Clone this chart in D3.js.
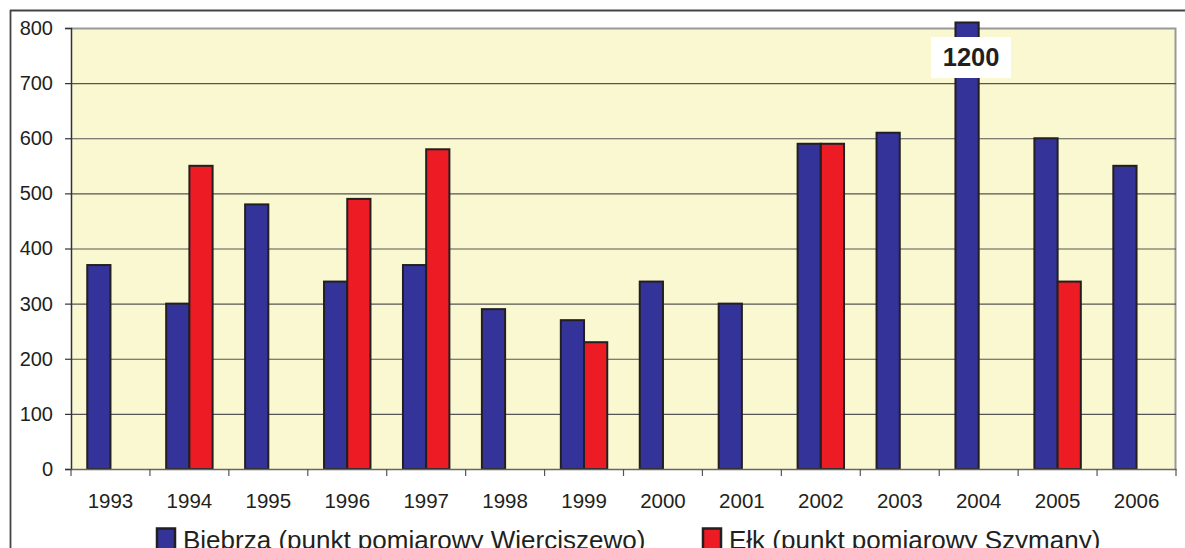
<!DOCTYPE html>
<html><head><meta charset="utf-8">
<script src="https://cdn.jsdelivr.net/npm/d3@7"></script>
<style>html,body{margin:0;padding:0;background:#fff;overflow:hidden}</style>
</head><body>
<svg id="c" width="1185" height="548"></svg>
<script>
const years = ["1993","1994","1995","1996","1997","1998","1999","2000","2001","2002","2003","2004","2005","2006"];
const biebrza = [370,300,480,340,370,290,270,340,300,590,610,1200,600,550];
const elk = [null,550,null,490,580,null,230,null,null,590,null,null,340,null];
const seriesNames = ["Biebrza (punkt pomiarowy Wierciszewo)","Ełk (punkt pomiarowy Szymany)"];
const seriesColors = ["#333399","#ED1C24"];
const yTicks = [0,100,200,300,400,500,600,700,800];
const overflowLabel = "1200";

const svg = d3.select("#c");
const L = 71, R = 1176, T = 28, B = 469;
const font = "Liberation Sans, Arial, sans-serif";

// outer frame
svg.append("line").attr("x1",10).attr("x2",1185).attr("y1",10.5).attr("y2",10.5).attr("stroke","#444").attr("stroke-width",1.8);
svg.append("line").attr("x1",10.5).attr("x2",10.5).attr("y1",10).attr("y2",548).attr("stroke","#444").attr("stroke-width",1.8);

const x = d3.scaleBand().domain(years).range([L,R]).paddingInner(0).paddingOuter(0);
const x1 = d3.scaleBand().domain([0,1]).range([0,x.bandwidth()]).paddingOuter(0.7).paddingInner(0);
const y = d3.scaleLinear().domain([0,800]).range([B,T]);

// plot bg
svg.append("rect").attr("x",L).attr("y",T).attr("width",R-L).attr("height",B-T).attr("fill","#FAF8D0");
// plot border top/right
svg.append("path").attr("d",`M${L},${T+0.5}H${R-0.5}V${B}`).attr("fill","none").attr("stroke","#999").attr("stroke-width",2);

// gridlines
svg.append("g").selectAll("line").data(yTicks.filter(d=>d>0 && d<800)).join("line")
  .attr("x1",L).attr("x2",R).attr("y1",d=>y(d)+0.5).attr("y2",d=>y(d)+0.5)
  .attr("stroke","#555").attr("stroke-width",1.2);

// bars
const data = [];
years.forEach((yr,i)=>{
  [biebrza[i],elk[i]].forEach((v,s)=>{ if(v!=null) data.push({yr,s,v}); });
});
const cap = 810;
svg.append("g").selectAll("rect").data(data).join("rect")
  .attr("x",d=>x(d.yr)+x1(d.s))
  .attr("width",x1.bandwidth())
  .attr("y",d=>y(Math.min(d.v,cap)))
  .attr("height",d=>B-y(Math.min(d.v,cap)))
  .attr("fill",d=>seriesColors[d.s])
  .attr("stroke","#231F20").attr("stroke-width",2);

// y axis
const ya = svg.append("g").attr("transform",`translate(${L},0)`)
  .call(d3.axisLeft(y).tickValues(yTicks).tickSize(6).tickPadding(12));
ya.select(".domain").attr("stroke","#333").attr("stroke-width",1.5);
ya.selectAll(".tick line").attr("stroke","#333").attr("stroke-width",1.2);
ya.selectAll("text").attr("font-family",font).attr("font-size",20).attr("fill","#231F20");

// x axis
const xa = svg.append("g").attr("transform",`translate(0,${B})`)
  .call(d3.axisBottom(x).tickSize(0).tickPadding(24));
xa.select(".domain").attr("stroke","#666").attr("stroke-width",1.5);
xa.selectAll("text").attr("font-family",font).attr("font-size",20.5).attr("fill","#231F20");
// category boundary ticks
svg.append("g").selectAll("line").data(years.concat(["end"])).join("line")
  .attr("x1",(d,i)=>i<years.length?x(d):R).attr("x2",(d,i)=>i<years.length?x(d):R)
  .attr("y1",B).attr("y2",B+7).attr("stroke","#555").attr("stroke-width",1.2);

// overflow label
const ov = data.find(d=>d.v>800);
const lx = x(ov.yr)+x1(ov.s)+x1.bandwidth()/2 + 4;
svg.append("rect").attr("x",lx-40).attr("y",37).attr("width",80).attr("height",41).attr("fill","#fff");
svg.append("text").attr("x",lx).attr("y",66).attr("text-anchor","middle")
  .attr("font-family",font).attr("font-weight","bold").attr("font-size",25.5).attr("fill","#231F20").text(overflowLabel);

// legend
const legX = [157,703];
seriesNames.forEach((n,i)=>{
  svg.append("rect").attr("x",legX[i]).attr("y",528.5).attr("width",18).attr("height",22)
    .attr("fill",seriesColors[i]).attr("stroke","#231F20").attr("stroke-width",2.5);
  svg.append("text").attr("x",legX[i]+26).attr("y",548.5).attr("font-family",font).attr("font-size",26)
    .attr("fill","#231F20").text(n);
});
</script>
</body></html>
